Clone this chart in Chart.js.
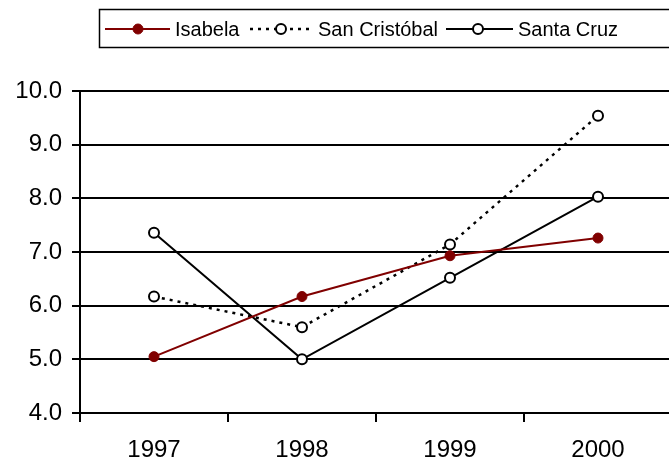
<!DOCTYPE html>
<html>
<head>
<meta charset="utf-8">
<script src="https://cdn.jsdelivr.net/npm/chart.js@4/dist/chart.umd.min.js"></script>
<style>
  html, body { margin: 0; padding: 0; background: #fff; overflow: hidden; }
  #wrap { width: 680px; height: 461px; }
</style>
</head>
<body>
<div id="wrap"><canvas id="myChart" width="680" height="461"></canvas></div>
<script>
// categorias e séries
const years = ['1997', '1998', '1999', '2000'];
const isabela = [5.05, 6.17, 6.93, 7.26];
const sanCristobal = [6.17, 5.6, 7.14, 9.54];
const santaCruz = [7.36, 5.0, 6.52, 8.03];
const yMin = 4, yMax = 10, yStep = 1;

const FONT = 'Liberation Sans, Arial, sans-serif';

// legenda desenhada à mão: caixa com borda, linha + marcador + texto
const boxLegend = {
    id: 'boxLegend',
    afterDraw(chart) {
        const ctx = chart.ctx;
        ctx.save();
        ctx.strokeStyle = '#000';
        ctx.lineWidth = 1.5;
        ctx.strokeRect(99.5, 9.5, 600, 38);
        const y = 29;
        const items = [
            { ds: 0, x0: 105, x1: 170, mx: 138, tx: 175 },
            { ds: 1, x0: 250, x1: 312, mx: 281, tx: 318 },
            { ds: 2, x0: 446, x1: 513, mx: 478, tx: 518 }
        ];
        ctx.font = '20px ' + FONT;
        ctx.textBaseline = 'middle';
        ctx.fillStyle = '#000';
        items.forEach(it => {
            const ds = chart.data.datasets[it.ds];
            ctx.beginPath();
            ctx.setLineDash(ds.borderDash || []);
            ctx.strokeStyle = ds.borderColor;
            ctx.lineWidth = ds.borderWidth;
            ctx.moveTo(it.x0, y);
            ctx.lineTo(it.x1, y);
            ctx.stroke();
            ctx.setLineDash([]);
            ctx.beginPath();
            ctx.arc(it.mx, y, ds.pointRadius, 0, Math.PI * 2);
            ctx.fillStyle = ds.pointBackgroundColor;
            ctx.fill();
            ctx.lineWidth = ds.pointBorderWidth;
            ctx.strokeStyle = ds.pointBorderColor;
            ctx.stroke();
            ctx.fillStyle = '#000';
            ctx.fillText(ds.label, it.tx, y + 1);
        });
        ctx.restore();
    }
};

const ctx = document.getElementById('myChart').getContext('2d');
new Chart(ctx, {
    type: 'line',
    data: {
        labels: years,
        datasets: [
            {
                label: 'Isabela',
                data: isabela,
                borderColor: '#800000',
                borderWidth: 2,
                pointRadius: 5,
                pointBackgroundColor: '#800000',
                pointBorderColor: '#800000',
                pointBorderWidth: 1,
                tension: 0
            },
            {
                label: 'San Cristóbal',
                data: sanCristobal,
                borderColor: '#000',
                borderWidth: 2.5,
                borderDash: [3, 5],
                pointRadius: 5,
                pointBackgroundColor: '#fff',
                pointBorderColor: '#000',
                pointBorderWidth: 2,
                tension: 0
            },
            {
                label: 'Santa Cruz',
                data: santaCruz,
                borderColor: '#000',
                borderWidth: 2,
                pointRadius: 5,
                pointBackgroundColor: '#fff',
                pointBorderColor: '#000',
                pointBorderWidth: 2,
                tension: 0
            }
        ]
    },
    options: {
        responsive: false,
        animation: false,
        devicePixelRatio: 1,
        layout: { padding: { top: 91, right: 8, left: 0, bottom: 0 } },
        plugins: {
            legend: { display: false },
            tooltip: { enabled: false }
        },
        scales: {
            x: {
                offset: true,
                grid: { offset: true, drawOnChartArea: false, color: '#000', lineWidth: 2, tickLength: 9 },
                border: { color: '#000', width: 2 },
                ticks: { color: '#000', font: { family: FONT, size: 24 }, padding: 14 },
                afterFit(scale) { scale.height = 48; }
            },
            y: {
                min: yMin,
                max: yMax,
                grid: { color: '#000', lineWidth: 2, tickLength: 8 },
                border: { color: '#000', width: 2 },
                ticks: {
                    stepSize: yStep,
                    color: '#000',
                    font: { family: FONT, size: 24 },
                    padding: 10,
                    callback: v => Number(v).toFixed(1)
                },
                afterFit(scale) { scale.width = 80; }
            }
        }
    },
    plugins: [boxLegend]
});
</script>
</body>
</html>
